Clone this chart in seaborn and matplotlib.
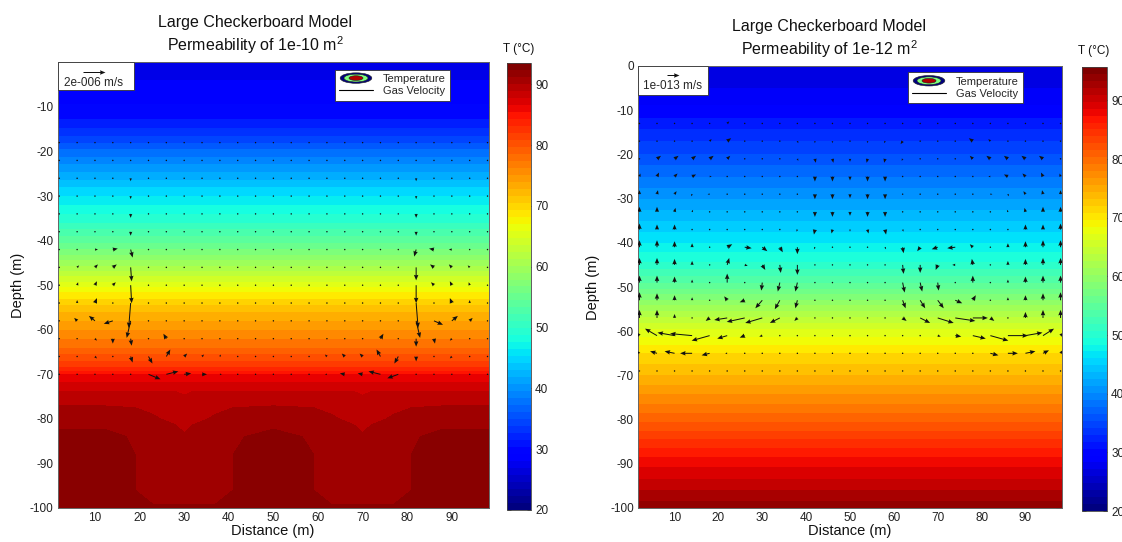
import numpy as np
import matplotlib
matplotlib.use("Agg")
import matplotlib.pyplot as plt
import seaborn as sns
from matplotlib.patches import Rectangle, Ellipse, Patch
from matplotlib.lines import Line2D
from matplotlib.legend_handler import HandlerBase
import matplotlib.colors as mcolors
import matplotlib.cm as cm

# ------------------------------------------------------------------ data
TITLE_LINE1 = "Large Checkerboard Model"
TITLE_LEFT = r"Permeability of 1e-10 m$^{\mathregular{2}}$"
TITLE_RIGHT = r"Permeability of 1e-12 m$^{\mathregular{2}}$"
CBAR_TITLE = "T (°C)"
KEY_LEFT = "2e-006 m/s"
KEY_RIGHT = "1e-013 m/s"
CBAR_TICKS = [20, 30, 40, 50, 60, 70, 80, 90]
X_TICKS = [10, 20, 30, 40, 50, 60, 70, 80, 90]
Y_TICKS_LEFT = [-100, -90, -80, -70, -60, -50, -40, -30, -20, -10]
Y_TICKS_RIGHT = [-100, -90, -80, -70, -60, -50, -40, -30, -20, -10, 0]
X_RANGE = [1.667, 98.333]
T_RANGE_LEFT = [20, 93.5]
T_RANGE_RIGHT = [20, 95.7]

# left panel: horizontally layered upper part (T by depth)
L_PROFILE_DEPTH = [0, -4, -8, -12, -16, -20, -24, -28, -32, -36, -40, -44,
                   -48, -52, -56, -60, -64, -68]
L_PROFILE_TEMP = [26.5, 27.5, 28.5, 30.0, 33.0, 37.0, 40.5, 44.0, 47.0, 50.0,
                  54.0, 58.5, 63.5, 68.5, 72.5, 75.5, 78.5, 82.5]
# left panel: lower part with checkerboard structure (rows = depth, cols = x)
L_BOTTOM_X = [1.667, 12, 19, 23, 28, 30, 32, 37, 41, 50, 59, 63, 68, 70, 72,
              77, 81, 88, 98.333]
L_BOTTOM_DEPTH = [-70, -73, -76, -80, -84, -88, -92, -96, -100]
L_BOTTOM_TEMP = [
    [86.0] * 19,
    [88.6] * 19,
    [90.2, 90.2, 90.2, 90.2, 90.0, 89.3, 90.0, 90.2, 90.2, 90.2, 90.2, 90.2, 90.0, 89.3, 90.0, 90.2, 90.2, 90.2, 90.2],
    [91.3, 91.3, 91.0, 90.6, 90.3, 89.8, 90.3, 90.6, 91.0, 91.3, 91.0, 90.6, 90.3, 89.8, 90.3, 90.6, 91.0, 91.3, 91.3],
    [92.5, 92.5, 91.8, 91.0, 90.9, 90.7, 90.9, 91.0, 91.8, 92.5, 91.8, 91.0, 90.9, 90.7, 90.9, 91.0, 91.8, 92.5, 92.5],
    [92.6, 92.6, 92.0, 91.2, 91.2, 91.2, 91.2, 91.2, 92.0, 92.6, 92.0, 91.2, 91.2, 91.2, 91.2, 91.2, 92.0, 92.6, 92.6],
    [92.6, 92.6, 92.0, 91.4, 91.4, 91.4, 91.4, 91.4, 92.0, 92.6, 92.0, 91.4, 91.4, 91.4, 91.4, 91.4, 92.0, 92.6, 92.6],
    [92.6, 92.5, 92.0, 91.6, 91.6, 91.6, 91.6, 91.6, 92.0, 92.5, 92.0, 91.6, 91.6, 91.6, 91.6, 91.6, 92.0, 92.5, 92.6],
    [92.7, 92.6, 92.3, 92.1, 92.1, 92.1, 92.1, 92.1, 92.3, 92.6, 92.3, 92.1, 92.1, 92.1, 92.1, 92.1, 92.3, 92.6, 92.7],
]

# right panel: layered temperature
R_PROFILE_DEPTH = [0, -5, -10, -15, -20, -25, -30, -35, -40, -45, -50, -55,
                   -60, -65, -70, -75, -80, -85, -90, -95, -100]
R_PROFILE_TEMP = [26.5, 27.5, 29.5, 32.5, 35.0, 38.0, 41.0, 44.0, 47.0, 50.5,
                  55.5, 61.5, 67.0, 71.0, 74.0, 77.5, 81.0, 85.0, 88.5, 91.5,
                  94.5]

# velocity sampling grid
GRID_X = [2, 6, 10, 14, 18, 22, 26, 30, 34, 38, 42, 46, 50, 54, 58, 62, 66,
          70, 74, 78, 82, 86, 90, 94, 98]
L_GRID_Y = [-18, -22, -26, -30, -34, -38, -42, -46, -50, -54, -58, -62, -66, -70]
R_GRID_Y = [-13, -17, -21, -25, -29, -33, -37, -41, -45, -49, -53, -57, -61,
            -65, -69]

# left panel gas velocity (units of 1e-6 m/s); unlisted grid points ~ 0
L_ARROW_X = [18, 18, 18, 18, 18, 18, 18, 18, 18, 18, 18,
             14, 14, 14, 10, 10, 10, 10, 6, 6, 6, 6, 10, 14, 14, 10, 10,
             22, 26, 30, 34, 38, 26, 22, 26, 30, 34, 38,
             82, 82, 82, 82, 82, 82, 82, 82, 82, 82, 82,
             86, 86, 86, 90, 90, 90, 90, 94, 94, 94, 94, 90, 86, 86, 90, 90,
             78, 74, 70, 66, 62, 74, 78, 74, 70, 66, 62]
L_ARROW_Y = [-26, -30, -34, -38, -42, -46, -50, -54, -58, -62, -66,
             -42, -46, -50, -42, -46, -50, -54, -46, -50, -54, -58, -58, -58, -62, -62, -66,
             -66, -66, -66, -66, -66, -62, -70, -70, -70, -70, -70,
             -26, -30, -34, -38, -42, -46, -50, -54, -58, -62, -66,
             -42, -46, -50, -42, -46, -50, -54, -46, -50, -54, -58, -58, -58, -62, -62, -66,
             -66, -66, -66, -66, -66, -62, -70, -70, -70, -70, -70]
L_ARROW_U = [0, 0, 0, 0, 0.18, 0.09, 0.09, -0.18, -0.36, 0.09, 0.18,
             0.45, 0.36, 0.27, 0.27, 0.27, 0.18, 0.18, 0.18, 0.09, 0, -0.27, -0.55, -0.82, 0, 0.18, 0.18,
             0.36, 0.36, 0.27, 0.18, 0.09, -0.27, 1.09, 1.09, 0.64, 0.45, 0.18,
             0, 0, 0, 0, -0.18, 0, 0, 0.18, 0.36, 0, 0,
             -0.45, -0.36, -0.27, -0.27, -0.27, -0.18, -0.18, -0.18, -0.09, 0, 0.27, 0.55, 0.82, 0.09, -0.18, -0.18,
             -0.36, -0.36, -0.27, -0.27, -0.18, 0.27, -1.0, -1.09, -0.45, -0.45, -0.18]
L_ARROW_V = [-0.27, -0.27, -0.36, -0.36, -0.73, -1.27, -1.64, -2.27, -1.55, -0.64, -0.55,
             0.09, 0.27, 0.27, 0, 0.27, 0.36, 0.45, 0.18, 0.27, 0.27, 0.27, 0.45, -0.27, -0.45, -0.18, -0.18,
             -0.64, 0.64, 0.27, 0.18, 0.18, 0.45, -0.45, 0.27, 0.09, 0, 0,
             -0.27, -0.27, -0.36, -0.36, -0.64, -1.18, -1.64, -2.27, -1.55, -0.73, -0.45,
             0.09, 0.27, 0.27, 0, 0.27, 0.36, 0.45, 0.18, 0.27, 0.27, 0.27, 0.45, -0.36, -0.45, -0.18, -0.18,
             -0.64, 0.64, 0.27, 0.27, 0.18, 0.45, -0.36, 0.27, 0.09, 0.09, 0]

# right panel gas velocity (units of 1e-13 m/s); unlisted grid points ~ 0
R_ARROW_X = [22, 62, 74,
             18, 22, 34, 38, 42, 46, 54, 58, 62, 66, 78, 82,
             6, 10, 14, 18, 22, 38, 42, 46, 50, 54, 58, 62, 78, 82, 86, 90, 94,
             2, 6, 10, 14, 18, 42, 46, 50, 54, 58, 82, 86, 90, 94, 98,
             2, 6, 10, 14, 18, 42, 46, 50, 54, 58, 82, 86, 90, 94, 98,
             2, 6, 10, 14, 42, 46, 50, 54, 58, 86, 90, 94, 98,
             2, 6, 10, 38, 42, 46, 50, 54, 58, 62, 90, 94, 98,
             2, 6, 10, 14, 22, 26, 30, 34, 38, 42, 58, 62, 66, 70, 74, 78, 86, 90, 94, 98,
             2, 6, 10, 14, 22, 26, 30, 34, 38, 62, 66, 70, 74, 78, 86, 90, 94, 98,
             2, 6, 10, 14, 22, 30, 34, 38, 62, 66, 70, 78, 86, 90, 94, 98,
             2, 6, 10, 14, 22, 26, 30, 34, 38, 62, 66, 70, 74, 78, 86, 90, 94, 98,
             2, 6, 10, 18, 22, 26, 30, 34, 38, 62, 66, 70, 74, 78, 82, 90, 94, 98,
             2, 6, 10, 14, 18, 22, 26, 30, 70, 74, 78, 82, 86, 90, 94, 98,
             2, 6, 10, 14, 18, 22, 82, 86, 90, 94, 98]
R_ARROW_Y = [-13] * 3 + [-17] * 12 + [-21] * 17 + [-25] * 15 + [-29] * 15 + \
            [-33] * 13 + [-37] * 13 + [-41] * 20 + [-45] * 18 + [-49] * 16 + \
            [-53] * 18 + [-57] * 18 + [-61] * 16 + [-65] * 11
R_ARROW_U = [0.17, -0.08, -0.08,
             0.17, 0.33, 0.08, 0.08, 0, 0, 0, -0.08, -0.17, -0.08, -0.33, -0.17,
             0.33, 0.33, 0.33, 0.33, 0.25, 0.08, 0.08, 0.08, 0, -0.08, -0.08, -0.08, -0.25, -0.33, -0.33, -0.33, -0.33,
             0.08, 0.17, 0.25, 0.33, 0.17, 0, 0, 0, 0, 0, -0.17, -0.33, -0.25, -0.17, -0.08,
             0, 0.08, 0.17, -0.08, -0.17, 0, 0, 0, 0, 0, 0.17, 0.08, -0.17, -0.08, 0,
             0, 0, 0.08, 0.08, 0, 0, 0, 0, 0, -0.08, -0.08, 0, 0,
             0, 0, 0, -0.08, -0.08, -0.08, 0, 0.08, 0.08, 0.08, 0, 0, 0,
             0, 0, 0, 0, 0.42, 0.58, 0.42, 0.25, 0, -0.08, 0.08, 0.08, -0.25, -0.5, -0.67, -0.25, 0, 0, 0, 0,
             0, 0, 0, 0, 0.17, 0.25, 0.25, 0.08, 0, 0.08, 0, -0.17, -0.25, -0.08, 0, 0, 0, 0,
             0, 0, 0, 0, 0, -0.08, -0.17, -0.17, 0.17, 0.17, 0.08, 0, 0, 0, 0, 0,
             0, 0, 0, 0, -0.25, -0.42, -0.58, -0.42, -0.17, 0.25, 0.42, 0.5, 0.58, 0.25, 0, 0, 0, 0,
             0, 0, 0, -0.33, -1.08, -1.5, -1.42, -0.83, -0.25, 0.33, 0.83, 1.33, 1.67, 1.25, 0.33, 0, 0, 0,
             -0.25, -1.0, -1.42, -1.83, -1.5, -0.83, -0.42, -0.25, 0.25, 0.5, 1.08, 1.5, 1.67, 1.42, 0.92, 0.25,
             -0.17, -0.58, -0.83, -1.0, -0.67, -0.17, 0.67, 0.83, 0.83, 0.5, 0.17]
R_ARROW_V = [0.17, 0, 0.08,
             0.17, 0.25, -0.08, -0.17, -0.17, -0.17, -0.17, -0.17, -0.25, 0.08, 0.25, 0.17,
             0.25, 0.25, 0.25, 0.25, 0.25, -0.17, -0.33, -0.33, -0.25, -0.33, -0.33, -0.17, 0.25, 0.25, 0.25, 0.25, 0.25,
             0.25, 0.33, 0.25, 0.17, 0, -0.42, -0.42, -0.33, -0.42, -0.42, 0, 0.17, 0.25, 0.33, 0.25,
             0.33, 0.33, 0.25, -0.17, 0, -0.42, -0.42, -0.33, -0.42, -0.42, 0, -0.17, 0.25, 0.33, 0.33,
             0.42, 0.42, 0.33, 0.17, -0.42, -0.42, -0.33, -0.42, -0.42, 0.17, 0.33, 0.42, 0.42,
             0.5, 0.42, 0.42, -0.17, -0.42, -0.33, -0.17, -0.33, -0.42, -0.17, 0.42, 0.42, 0.5,
             0.58, 0.58, 0.5, 0.33, 0.25, -0.08, -0.33, -0.42, -0.58, -0.17, -0.17, -0.5, -0.33, -0.17, -0.08, 0.25, 0.33, 0.5, 0.58, 0.58,
             0.58, 0.58, 0.5, 0.33, 0.58, -0.08, -0.42, -0.67, -0.83, -0.75, -0.67, -0.42, 0, 0.5, 0.33, 0.5, 0.58, 0.58,
             0.58, 0.58, 0.5, 0.25, 0.75, -0.67, -0.75, -0.75, -0.83, -0.75, -0.67, 0.58, 0.25, 0.5, 0.58, 0.58,
             0.67, 0.58, 0.42, 0.25, 0.33, -0.17, -0.67, -0.75, -0.67, -0.67, -0.67, -0.67, -0.25, 0.42, 0.25, 0.42, 0.58, 0.67,
             0.67, 0.67, 0.33, -0.25, -0.17, -0.33, -0.42, -0.42, -0.25, -0.25, -0.42, -0.42, -0.25, 0, -0.25, 0.5, 0.67, 0.67,
             0.25, 0.58, 0.25, 0.17, -0.42, -0.25, -0.17, -0.08, -0.08, -0.08, -0.25, -0.42, 0, 0.25, 0.58, 0.25,
             0.17, 0.17, 0.17, 0, -0.17, 0, -0.17, 0, 0.17, 0.25, 0.25]

# ------------------------------------------------------------------ style
sns.set_theme(style="white")
plt.rcParams["font.family"] = ["Liberation Sans", "DejaVu Sans"]
plt.rcParams["mathtext.fontset"] = "custom"
plt.rcParams["mathtext.rm"] = "Liberation Sans"
plt.rcParams["axes.unicode_minus"] = False

FIG_W, FIG_H = 1122, 542
fig = plt.figure(figsize=(FIG_W / 100, FIG_H / 100), dpi=100)
fig.patch.set_facecolor("white")

jet_smooth = plt.get_cmap("jet")
jet64 = plt.get_cmap("jet", 64)


class HandlerEllipses(HandlerBase):
    def create_artists(self, legend, orig_handle, xdescent, ydescent,
                       width, height, fontsize, trans):
        cx = width / 2 - xdescent
        cy = height / 2 - ydescent
        arts = []
        for fw, fh, col in [(0.95, 1.35, "#00007f"), (0.72, 1.0, "#7fff7f"),
                            (0.42, 0.6, "#b00000")]:
            e = Ellipse((cx, cy), width * fw, height * fh, facecolor=col,
                        edgecolor="#202020", linewidth=0.4, transform=trans)
            arts.append(e)
        return arts


def fx(px):
    return px / FIG_W


def fy(py):
    return 1 - py / FIG_H


def build_panel(ax_box, cax_box, grid_x, grid_y, temp, trange, arrows_grid_y,
                ax_x, ax_y, ax_u, ax_v, scale_units, key_u, key_label, key_xy,
                key_box, legend_anchor, yticks):
    ax = fig.add_axes(ax_box)
    levels = np.arange(trange[0], trange[1] + 1.5, 1.5)
    norm = mcolors.Normalize(vmin=trange[0], vmax=trange[1])
    ax.contourf(grid_x, grid_y, temp, levels=levels, cmap=jet_smooth,
                norm=norm, extend="both", zorder=1)

    gx, gy = np.meshgrid(np.array(GRID_X, float), np.array(arrows_grid_y, float))
    U = np.zeros_like(gx)
    V = np.zeros_like(gx)
    for x, y, u, v in zip(ax_x, ax_y, ax_u, ax_v):
        i = arrows_grid_y.index(y)
        j = GRID_X.index(x)
        U[i, j] = u
        V[i, j] = v
    Q = ax.quiver(gx, gy, U, V, angles="uv", scale_units="inches",
                  scale=scale_units, units="dots", width=1.0, headwidth=4.5,
                  headlength=5.5, headaxislength=5, minlength=1.6,
                  color="#111111", zorder=3)

    ax.add_patch(Rectangle((key_box[0], key_box[1]), key_box[2], key_box[3],
                           transform=ax.transAxes, facecolor="white",
                           edgecolor="#333333", linewidth=0.6, zorder=4,
                           clip_on=False))
    qk = ax.quiverkey(Q, key_xy[0], key_xy[1], key_u, key_label,
                      labelpos="S", coordinates="axes", labelsep=0.05,
                      fontproperties={"size": 8.5,
                                      "family": ["Liberation Sans", "DejaVu Sans"]})
    qk.set_zorder(5)

    proxy = Patch()
    line = Line2D([], [], color="black", linewidth=0.8)
    leg = ax.legend([proxy, line], ["Temperature", "Gas Velocity"],
                    handler_map={proxy: HandlerEllipses()},
                    loc="upper right", bbox_to_anchor=legend_anchor,
                    borderaxespad=0, fontsize=8, handlelength=3.0,
                    handletextpad=0.9, borderpad=0.4, labelspacing=0.2,
                    frameon=True, fancybox=False, framealpha=1,
                    edgecolor="#333333")
    leg.get_frame().set_linewidth(0.6)
    leg.set_zorder(6)

    ax.set_xlim(X_RANGE)
    ax.set_ylim(-100, 0)
    ax.set_xticks(X_TICKS)
    ax.set_yticks(yticks)
    ax.tick_params(direction="in", length=4, width=0.6, top=True, right=True,
                   labelsize=8.5, pad=3, colors="#222222")
    for s in ax.spines.values():
        s.set_color("#666666")
        s.set_linewidth(0.7)

    cax = fig.add_axes(cax_box)
    sm = cm.ScalarMappable(norm=norm, cmap=jet64)
    cb = fig.colorbar(sm, cax=cax, ticks=CBAR_TICKS)
    cb.outline.set_linewidth(0.6)
    cb.outline.set_edgecolor("#444444")
    cax.tick_params(direction="in", length=3, width=0.6, left=True, right=True,
                    labelsize=8.5, pad=3, colors="#222222")
    return ax


# left panel temperature grid
L_GRID_DEPTH = np.array(L_PROFILE_DEPTH + L_BOTTOM_DEPTH, float)
L_T = np.vstack([np.full(len(L_BOTTOM_X), t) for t in L_PROFILE_TEMP] +
                [np.array(r, float) for r in L_BOTTOM_TEMP])

axL = build_panel([fx(57.8), fy(508), fx(489 - 57.8), (508 - 62.4) / FIG_H],
                  [fx(507), fy(510), fx(24), 447 / FIG_H],
                  np.array(L_BOTTOM_X, float), L_GRID_DEPTH, L_T, T_RANGE_LEFT,
                  L_GRID_Y, L_ARROW_X, L_ARROW_Y, L_ARROW_U, L_ARROW_V,
                  1 / 0.11, 2, KEY_LEFT, (0.0835, 0.978),
                  (0, 0.937, 0.176, 0.063), (0.9095, 0.984), Y_TICKS_LEFT)

R_X = np.array(X_RANGE, float)
R_T = np.vstack([np.full(2, t) for t in R_PROFILE_TEMP])
axR = build_panel([fx(638), fy(508), fx(1062 - 638), (508 - 66) / FIG_H],
                  [fx(1082), fy(511), fx(25), 444 / FIG_H],
                  R_X, np.array(R_PROFILE_DEPTH, float), R_T, T_RANGE_RIGHT,
                  R_GRID_Y, R_ARROW_X, R_ARROW_Y, R_ARROW_U, R_ARROW_V,
                  1 / 0.12, 1, KEY_RIGHT, (0.0825, 0.9796),
                  (0, 0.934, 0.165, 0.066), (0.908, 0.986), Y_TICKS_RIGHT)

# titles and labels
TXT = dict(color="#111111", ha="center", va="center")
fig.text(fx(255), fy(22), TITLE_LINE1, fontsize=11.5, **TXT)
fig.text(fx(255), fy(45), TITLE_LEFT, fontsize=11.5, **TXT)
fig.text(fx(829), fy(26), TITLE_LINE1, fontsize=11.5, **TXT)
fig.text(fx(829), fy(49), TITLE_RIGHT, fontsize=11.5, **TXT)
fig.text(fx(519), fy(49), CBAR_TITLE, fontsize=8.5, **TXT)
fig.text(fx(1094), fy(51), CBAR_TITLE, fontsize=8.5, **TXT)
fig.text(fx(18), fy(285), "Depth (m)", fontsize=10.5, rotation=90, **TXT)
fig.text(fx(593), fy(287), "Depth (m)", fontsize=10.5, rotation=90, **TXT)
fig.text(fx(273), fy(531), "Distance (m)", fontsize=10.5, **TXT)
fig.text(fx(850), fy(531), "Distance (m)", fontsize=10.5, **TXT)

fig.savefig("out.png", dpi=100, facecolor="white")
